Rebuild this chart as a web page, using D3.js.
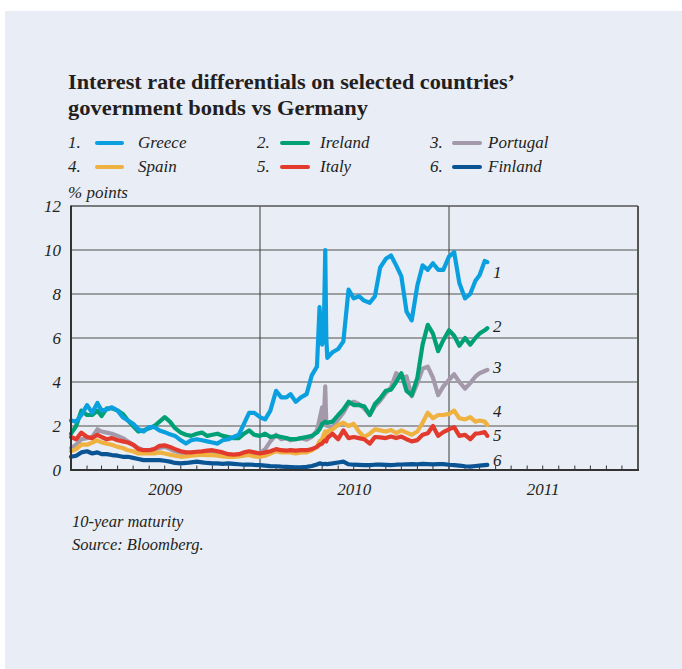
<!DOCTYPE html>
<html><head><meta charset="utf-8">
<script src="https://cdn.jsdelivr.net/npm/d3@7"></script>
<style>
html,body{margin:0;padding:0;background:#fff;}
svg{display:block;}
text{font-family:"Liberation Serif","DejaVu Serif",serif;fill:#231f20;}
</style></head>
<body>
<svg id="chart" width="682" height="669"></svg>
<script>
// ---------- DATA ----------
const title = ["Interest rate differentials on selected countries\u2019", "government bonds vs Germany"];
const unitLabel = "% points";
const notes = ["10-year maturity", "Source: Bloomberg."];
const yTicks = [0, 2, 4, 6, 8, 10, 12];
const yearLabels = ["2009", "2010", "2011"];

const dates = [
  // 2009
  "2009-01-01","2009-01-11","2009-01-21","2009-02-01","2009-02-11","2009-02-21",
  "2009-03-01","2009-03-11","2009-03-21","2009-04-01","2009-04-11","2009-04-21",
  "2009-05-01","2009-05-11","2009-05-21","2009-06-01","2009-06-11","2009-06-21",
  "2009-07-01","2009-07-11","2009-07-21","2009-08-01","2009-08-11","2009-08-21",
  "2009-09-01","2009-09-11","2009-09-21","2009-10-01","2009-10-11","2009-10-21",
  "2009-11-01","2009-11-11","2009-11-21","2009-12-01","2009-12-11","2009-12-21",
  // 2010
  "2010-01-01","2010-01-11","2010-01-21","2010-02-01","2010-02-11","2010-02-21",
  "2010-03-01","2010-03-11","2010-03-21","2010-04-01","2010-04-11","2010-04-21",
  "2010-04-26","2010-05-01","2010-05-04","2010-05-07","2010-05-09","2010-05-11","2010-05-21",
  "2010-06-01","2010-06-11","2010-06-21","2010-07-01","2010-07-11","2010-07-21",
  "2010-08-01","2010-08-11","2010-08-21","2010-09-01","2010-09-11","2010-09-21",
  "2010-10-01","2010-10-11","2010-10-21","2010-11-01","2010-11-11","2010-11-21",
  "2010-12-01","2010-12-11","2010-12-21",
  // 2011
  "2011-01-01","2011-01-11","2011-01-21","2011-02-01","2011-02-11","2011-02-21",
  "2011-03-01","2011-03-11","2011-03-16"
];

const greece = [
  2.25,2.2,2.5, 2.95,2.6,3.05, 2.7,2.75,2.85, 2.7,2.4,2.25, 2.1,1.85,1.75, 1.95,1.95,1.8,
  1.72,1.62,1.55, 1.35,1.2,1.35, 1.4,1.35,1.3, 1.25,1.2,1.35, 1.4,1.5,1.6, 2.1,2.6,2.6,
  2.4,2.3,2.7, 3.6,3.3,3.3, 3.45,3.1,3.3, 3.45,4.3,4.7,
  7.4,5.7,6.0,10.0,6.0,5.1,5.35,
  5.5,5.85,8.2, 7.8,7.9,7.7, 7.6,7.9,9.2, 9.6,9.75,9.3, 8.8,7.2,6.8, 8.4,9.3,9.1, 9.4,9.1,9.1,
  9.7,9.9,8.5, 7.8,8.0,8.6, 8.85,9.5,9.45
];
const ireland = [
  1.65,2.0,2.7, 2.5,2.5,2.7, 2.45,2.8,2.8, 2.7,2.55,2.25, 2.0,1.75,1.8, 1.9,2.0,2.2,
  2.4,2.2,1.9, 1.7,1.6,1.55, 1.65,1.7,1.55, 1.6,1.65,1.55, 1.5,1.45,1.45, 1.65,1.8,1.6,
  1.55,1.65,1.5, 1.55,1.5,1.45, 1.4,1.4,1.45, 1.5,1.55,1.7,
  1.85,2.1,2.15,2.2,2.15,2.15,2.2,
  2.5,2.75,3.1, 2.95,2.95,2.9, 2.5,3.0,3.25, 3.6,3.65,4.0, 4.4,3.6,3.4, 4.2,5.7,6.6, 6.2,5.4,5.9,
  6.35,6.1,5.65, 6.0,5.7,6.0, 6.2,6.35,6.45
];
const portugal = [
  1.0,1.15,1.4, 1.45,1.5,1.85, 1.75,1.7,1.65, 1.55,1.45,1.3, 1.15,1.0,0.9, 0.9,0.95,1.0,
  1.05,0.95,0.85, 0.78,0.72,0.72, 0.75,0.78,0.78, 0.8,0.75,0.72, 0.66,0.65,0.67, 0.72,0.76,0.7,
  0.78,0.95,1.3, 1.6,1.4,1.45, 1.35,1.4,1.45, 1.38,1.5,1.8,
  2.3,2.85,2.2,3.8,2.1,2.0,1.95,
  2.3,2.6,3.0, 3.1,3.0,2.8, 2.5,2.9,3.15, 3.5,3.75,4.4, 4.2,4.25,3.35, 3.95,4.6,4.7, 4.2,3.4,3.8,
  4.1,4.35,4.0, 3.7,3.95,4.25, 4.4,4.5,4.55
];
const spain = [
  0.85,0.95,1.15, 1.15,1.25,1.35, 1.25,1.2,1.15, 1.05,1.0,0.9, 0.85,0.75,0.75, 0.75,0.75,0.8,
  0.75,0.7,0.65, 0.6,0.62,0.65, 0.68,0.7,0.68, 0.68,0.65,0.62, 0.6,0.6,0.62, 0.65,0.68,0.62,
  0.6,0.65,0.75, 0.85,0.8,0.8, 0.8,0.75,0.8, 0.8,0.9,1.05,
  1.3,1.4,1.6,1.75,1.6,1.75,1.85,
  2.05,2.15,2.0, 2.1,1.75,1.5, 1.65,1.85,1.8, 1.75,1.82,1.68, 1.8,1.7,1.6, 1.75,2.15,2.6, 2.35,2.5,2.5,
  2.55,2.7,2.35, 2.3,2.4,2.2, 2.25,2.2,2.05
];
const italy = [
  1.5,1.4,1.7, 1.5,1.45,1.6, 1.5,1.4,1.45, 1.35,1.3,1.25, 1.15,0.95,0.9, 0.9,0.95,1.1,
  1.12,1.05,0.95, 0.85,0.8,0.8, 0.83,0.85,0.88, 0.9,0.85,0.8, 0.72,0.7,0.72, 0.8,0.85,0.8,
  0.75,0.8,0.85, 0.95,0.9,0.88, 0.9,0.88,0.9, 0.9,0.95,1.05,
  1.15,1.2,1.3,1.35,1.3,1.45,1.65,
  1.4,1.8,1.45, 1.5,1.45,1.4, 1.2,1.5,1.48, 1.45,1.52,1.45, 1.52,1.4,1.3, 1.36,1.6,1.67, 2.0,1.55,1.72,
  1.85,1.95,1.55, 1.6,1.4,1.65, 1.67,1.72,1.55
];
const finland = [
  0.6,0.65,0.8, 0.85,0.75,0.8, 0.72,0.72,0.68, 0.65,0.6,0.6, 0.55,0.5,0.45, 0.45,0.45,0.45,
  0.42,0.38,0.32, 0.3,0.32,0.35, 0.38,0.35,0.32, 0.3,0.3,0.28, 0.3,0.28,0.26, 0.24,0.25,0.23,
  0.22,0.2,0.18, 0.17,0.15,0.14, 0.13,0.12,0.12, 0.14,0.18,0.25,
  0.3,0.28,0.27,0.28,0.27,0.27,0.3,
  0.34,0.38,0.26, 0.24,0.23,0.22, 0.22,0.24,0.24, 0.23,0.22,0.24, 0.25,0.26,0.27, 0.26,0.28,0.27, 0.26,0.27,0.27,
  0.24,0.22,0.2, 0.17,0.15,0.18, 0.2,0.22,0.23
];

const seriesNames = ["Greece", "Ireland", "Portugal", "Spain", "Italy", "Finland"];
const seriesValues = [greece, ireland, portugal, spain, italy, finland];
const seriesColors = ["#0aa0e0", "#00a077", "#a399ab", "#efb140", "#e23a2c", "#0b5494"];
const drawOrder = [2, 5, 3, 4, 1, 0];

// ---------- LAYOUT ----------
const svg = d3.select("#chart");
const M = {left: 71, right: 638, top: 206, bottom: 470};

svg.append("rect").attr("x", 5).attr("y", 11).attr("width", 677).attr("height", 658).attr("fill", "#e9edf6");

const parse = d3.timeParse("%Y-%m-%d");
const xDates = dates.map(parse);
const x = d3.scaleTime().domain([new Date(2009, 0, 1), new Date(2012, 0, 1)]).range([M.left, M.right]);
const y = d3.scaleLinear().domain([0, 12]).range([M.bottom, M.top]);

// title
svg.append("text").attr("x", 68).attr("y", 89).attr("font-size", 21).attr("font-weight", "bold")
  .attr("textLength", 447).attr("lengthAdjust", "spacingAndGlyphs").text(title[0]);
svg.append("text").attr("x", 68).attr("y", 115).attr("font-size", 21).attr("font-weight", "bold")
  .attr("textLength", 300).attr("lengthAdjust", "spacingAndGlyphs").text(title[1]);

// legend
const legCols = [{n: 68, l1: 97, l2: 122, t: 138}, {n: 257, l1: 282, l2: 308, t: 320}, {n: 430, l1: 454, l2: 480, t: 488}];
const legRows = [148, 172];
seriesNames.forEach((name, i) => {
  const c = legCols[i % 3], r = legRows[Math.floor(i / 3)];
  svg.append("text").attr("x", c.n).attr("y", r).attr("font-size", 17).attr("font-style", "italic").text((i + 1) + ".");
  svg.append("line").attr("x1", c.l1).attr("x2", c.l2).attr("y1", r - 5).attr("y2", r - 5)
    .attr("stroke", seriesColors[i]).attr("stroke-width", 4).attr("stroke-linecap", "round");
  svg.append("text").attr("x", c.t).attr("y", r).attr("font-size", 17).attr("font-style", "italic").text(name);
});

svg.append("text").attr("x", 68).attr("y", 198).attr("font-size", 17).attr("font-style", "italic").text(unitLabel);

// grid lines
const g = svg.append("g");
g.selectAll(".hg").data(yTicks.filter(d => d > 0 && d < 12)).join("line")
  .attr("x1", M.left).attr("x2", M.right).attr("y1", d => y(d)).attr("y2", d => y(d))
  .attr("stroke", "#858585").attr("stroke-width", 1.4);
g.selectAll(".vg").data([new Date(2010, 0, 1), new Date(2011, 0, 1)]).join("line")
  .attr("x1", d => x(d)).attr("x2", d => x(d)).attr("y1", M.top).attr("y2", M.bottom)
  .attr("stroke", "#3a3a3a").attr("stroke-width", 1);

// monthly ticks
const months = d3.timeMonth.range(new Date(2009, 1, 1), new Date(2012, 0, 1));
g.selectAll(".mt").data(months).join("line")
  .attr("x1", d => x(d)).attr("x2", d => x(d)).attr("y1", M.bottom).attr("y2", M.bottom - 4.5)
  .attr("stroke", "#333").attr("stroke-width", 1);

// frame
g.append("line").attr("x1", M.left).attr("x2", M.right).attr("y1", M.top).attr("y2", M.top).attr("stroke", "#555").attr("stroke-width", 1.5);
g.append("line").attr("x1", M.right).attr("x2", M.right).attr("y1", M.top).attr("y2", M.bottom).attr("stroke", "#555").attr("stroke-width", 2);

// y labels
svg.selectAll(".yl").data(yTicks).join("text")
  .attr("x", 61).attr("y", d => y(d) + 6).attr("text-anchor", "end")
  .attr("font-size", 17).attr("font-style", "italic").text(d => d);

// x labels
svg.selectAll(".xl").data(yearLabels).join("text")
  .attr("x", d => x(new Date(+d, 6, 2))).attr("y", 495).attr("text-anchor", "middle")
  .attr("font-size", 17).attr("font-style", "italic").text(d => d);

// series
const line = d3.line().x((d, i) => x(xDates[i])).y(d => y(d)).curve(d3.curveLinear);
drawOrder.forEach(i => {
  svg.append("path").attr("d", line(seriesValues[i])).attr("fill", "none")
    .attr("stroke", seriesColors[i]).attr("stroke-width", 4.2)
    .attr("stroke-linejoin", "round").attr("stroke-linecap", "round");
});

// axes on top
svg.append("line").attr("x1", M.left).attr("x2", M.left).attr("y1", M.top - 0.5).attr("y2", M.bottom + 1).attr("stroke", "#333").attr("stroke-width", 2);
svg.append("line").attr("x1", M.left).attr("x2", M.right + 1).attr("y1", M.bottom).attr("y2", M.bottom).attr("stroke", "#333").attr("stroke-width", 2);

// end labels
const endLabelY = [278, 332, 373, 417, 441, 466];
seriesNames.forEach((n, i) => {
  svg.append("text").attr("x", 493).attr("y", endLabelY[i]).attr("font-size", 17).attr("font-style", "italic").text(i + 1);
});

// notes
notes.forEach((t, i) => {
  svg.append("text").attr("x", 72).attr("y", 527 + i * 23).attr("font-size", 16.5).attr("font-style", "italic").text(t);
});
</script>
</body></html>
